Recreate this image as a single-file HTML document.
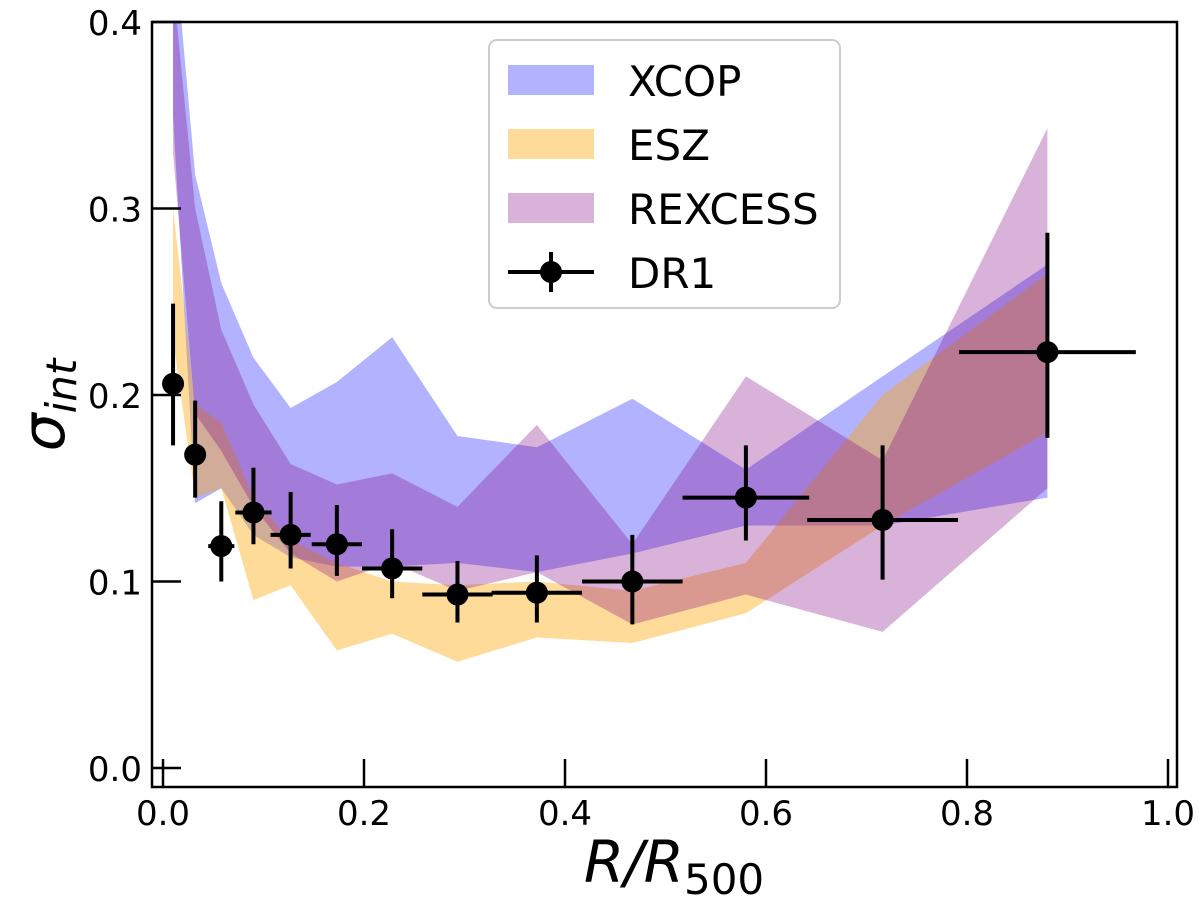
<!DOCTYPE html>
<html><head><meta charset="utf-8"><style>body{margin:0;background:#fff}svg{display:block;font-family:"DejaVu Sans","Liberation Sans",sans-serif}</style></head>
<body>
<svg id="chart" width="1200" height="908" viewBox="0 0 1200 908" xmlns="http://www.w3.org/2000/svg">
<defs><clipPath id="clip"><rect x="152" y="22" width="1025" height="765"/></clipPath></defs>
<g id="bands" clip-path="url(#clip)"></g>
<g id="points"></g>
<rect x="152" y="22" width="1025" height="765" fill="none" stroke="#000" stroke-width="2.5"/>
<g id="ticks"></g>
<text x="674" y="882" text-anchor="middle" font-size="58" font-style="italic">R/R<tspan font-style="normal" font-size="42" dy="12">500</tspan></text>
<text transform="translate(64,405) rotate(-90)" text-anchor="middle" font-size="60" font-style="italic">σ<tspan font-size="42" dy="12">int</tspan></text>
<g>
<rect x="489" y="40" width="351" height="268" rx="8" fill="#fff" fill-opacity="0.8" stroke="#ccc" stroke-width="2"/>
<rect x="508" y="65" width="86" height="30" fill="#0000ff" fill-opacity="0.3"/>
<text x="628" y="96" font-size="42">XCOP</text>
<rect x="508" y="129" width="86" height="30" fill="#ffa500" fill-opacity="0.4"/>
<text x="628" y="160" font-size="42">ESZ</text>
<rect x="508" y="193" width="86" height="30" fill="#800080" fill-opacity="0.3"/>
<text x="628" y="224" font-size="42">REXCESS</text>
<line x1="508" y1="272" x2="594" y2="272" stroke="#000" stroke-width="4"/>
<line x1="551" y1="252" x2="551" y2="292" stroke="#000" stroke-width="4"/>
<circle cx="551" cy="272" r="11" fill="#000"/>
<text x="628" y="288" font-size="42">DR1</text>
</g>
</svg>
<script>
const radii = [0.01,0.032,0.058,0.09,0.127,0.173,0.228,0.293,0.372,0.467,0.58,0.716,0.88];
const xcopUpper = [0.45,0.318,0.26,0.22,0.193,0.207,0.231,0.178,0.172,0.198,0.16,0.21,0.27];
const xcopLower = [0.35,0.142,0.15,0.125,0.113,0.108,0.108,0.11,0.105,0.115,0.13,0.13,0.145];
const eszUpper = [0.30,0.195,0.185,0.145,0.122,0.11,0.10,0.098,0.10,0.095,0.11,0.20,0.265];
const eszLower = [0.23,0.145,0.15,0.09,0.098,0.063,0.072,0.057,0.07,0.067,0.083,0.13,0.18];
const rexUpper = [0.42,0.30,0.235,0.195,0.163,0.152,0.158,0.14,0.184,0.12,0.21,0.165,0.343];
const rexLower = [0.33,0.19,0.17,0.14,0.115,0.10,0.11,0.095,0.105,0.077,0.093,0.073,0.15];
const dr1Y = [0.206,0.168,0.119,0.137,0.125,0.12,0.107,0.093,0.094,0.10,0.145,0.133,0.223];
const dr1YLo = [0.173,0.145,0.10,0.12,0.107,0.103,0.091,0.078,0.078,0.077,0.122,0.101,0.177];
const dr1YHi = [0.249,0.197,0.143,0.161,0.148,0.141,0.128,0.111,0.114,0.125,0.173,0.173,0.287];
const dr1XErr = [0.002,0.01,0.013,0.018,0.02,0.025,0.03,0.035,0.045,0.05,0.063,0.075,0.088];
const xTicks = [0.0,0.2,0.4,0.6,0.8,1.0];
const yTicks = [0.0,0.1,0.2,0.3,0.4];
const NS='http://www.w3.org/2000/svg';
const X = v => 163 + v*1005;
const Y = v => 768 - v*1865;
function band(up, lo, color, op, name){
  let pts = radii.map((r,i)=>X(r)+','+Y(up[i]));
  for(let i=radii.length-1;i>=0;i--) pts.push(X(radii[i])+','+Y(lo[i]));
  const p=document.createElementNS(NS,'polygon');
  p.setAttribute('points',pts.join(' '));
  p.setAttribute('fill',color);p.setAttribute('fill-opacity',op);
  
  
  document.getElementById('bands').appendChild(p);
}
band(xcopUpper,xcopLower,'#0000ff',0.3,'xcop-band');
band(eszUpper,eszLower,'#ffa500',0.4,'esz-band');
band(rexUpper,rexLower,'#800080',0.3,'rexcess-band');
const pg=document.getElementById('points');
function ln(g,x1,y1,x2,y2,w){const l=document.createElementNS(NS,'line');l.setAttribute('x1',x1);l.setAttribute('y1',y1);l.setAttribute('x2',x2);l.setAttribute('y2',y2);l.setAttribute('stroke','#000');l.setAttribute('stroke-width',w);g.appendChild(l);return l;}
radii.forEach((r,i)=>{
  const g=document.createElementNS(NS,'g');
  
  
  ln(g,X(r-dr1XErr[i]),Y(dr1Y[i]),X(r+dr1XErr[i]),Y(dr1Y[i]),4);
  ln(g,X(r),Y(dr1YLo[i]),X(r),Y(dr1YHi[i]),4);
  const c=document.createElementNS(NS,'circle');c.setAttribute('cx',X(r));c.setAttribute('cy',Y(dr1Y[i]));c.setAttribute('r',11);
  g.appendChild(c);pg.appendChild(g);
});
const tg=document.getElementById('ticks');
xTicks.forEach(v=>{
  const l=ln(tg,X(v),787,X(v),759,2.5);
  
  
  const t=document.createElementNS(NS,'text');t.setAttribute('x',X(v));t.setAttribute('y',825);t.setAttribute('text-anchor','middle');t.setAttribute('font-size','34');t.textContent=v.toFixed(1);
  
  
  tg.appendChild(t);
});
yTicks.forEach(v=>{
  const l=ln(tg,152,Y(v),181,Y(v),2.5);
  
  
  const t=document.createElementNS(NS,'text');t.setAttribute('x',142);t.setAttribute('y',Y(v)+13);t.setAttribute('text-anchor','end');t.setAttribute('font-size','34');t.textContent=v.toFixed(1);
  
  
  tg.appendChild(t);
});
</script>
</body></html>
